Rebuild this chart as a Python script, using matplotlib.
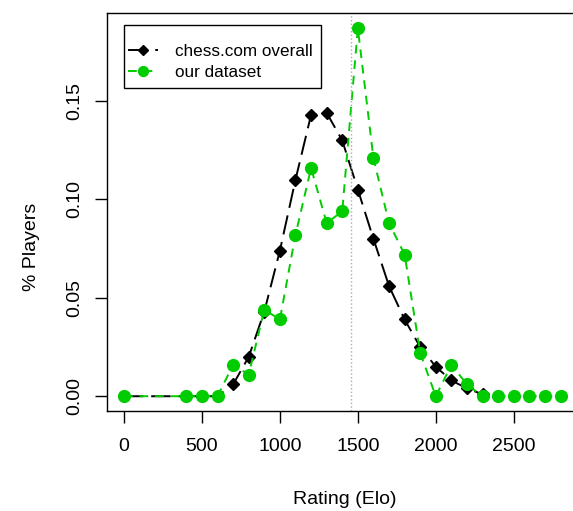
import matplotlib
matplotlib.use("Agg")
import matplotlib.pyplot as plt
from matplotlib.patches import Rectangle

plt.rcParams["font.family"] = ["Liberation Sans", "DejaVu Sans"]

# chess.com overall distribution
chess_x = [0, 400, 500, 600, 700, 800, 900, 1000, 1100, 1200, 1300, 1400, 1500,
           1600, 1700, 1800, 1900, 2000, 2100, 2200, 2300]
chess_y = [0.0, 0.0, 0.0, 0.0, 0.006, 0.020, 0.043, 0.074, 0.110, 0.143, 0.144, 0.130, 0.105,
           0.080, 0.056, 0.039, 0.025, 0.015, 0.008, 0.004, 0.001]

# our dataset
ours_x = [0, 400, 500, 600, 700, 800, 900, 1000, 1100, 1200, 1300, 1400, 1500, 1600,
          1700, 1800, 1900, 2000, 2100, 2200, 2300, 2400, 2500, 2600, 2700, 2800]
ours_y = [0.0, 0.0, 0.0, 0.0, 0.016, 0.011, 0.044, 0.039, 0.082, 0.116, 0.088, 0.094, 0.187, 0.121,
          0.088, 0.072, 0.022, 0.0, 0.016, 0.006, 0.0, 0.0, 0.0, 0.0, 0.0, 0.0]

mean_rating = 1455
x_ticks = [0, 500, 1000, 1500, 2000, 2500]
y_ticks = [0.00, 0.05, 0.10, 0.15]

W, H = 573, 511
fig = plt.figure(figsize=(W / 100, H / 100), dpi=100)
# axes box in pixels: left 106.5, right 578, top 13.5, bottom 411
AX_L, AX_R, AX_T, AX_B = 106.5, 578.0, 13.5, 411.0
AW, AH = AX_R - AX_L, AX_B - AX_T
ax = fig.add_axes([AX_L / W, (H - AX_B) / H, AW / W, AH / H])


def px(x, y):
    # pixel position -> axes fraction
    return (x - AX_L) / AW, (AX_B - y) / AH


ax.plot(chess_x, chess_y, color="black", linestyle=(0, (10, 4)), linewidth=1.4,
        marker="D", markersize=6.5, label="chess.com overall")
ax.plot(ours_x, ours_y, color="#00cc00", linestyle=(0, (4.5, 3.5)), linewidth=1.4,
        marker="o", markersize=9.5, markeredgewidth=0, label="our dataset")
ax.axvline(mean_rating, color="#aaaaaa", linestyle=":", linewidth=1)

ax.set_xlim(-112, 2912)
ax.set_ylim(-0.0075, 0.1945)
ax.set_xticks(x_ticks)
ax.set_xticklabels([str(t) for t in x_ticks])
ax.set_yticks(y_ticks)
ax.set_yticklabels(["%.2f" % t for t in y_ticks], rotation=90, va="center")
ax.tick_params(direction="out", length=8.5, width=1, labelsize=14)
ax.tick_params(axis="x", pad=11)
ax.tick_params(axis="y", pad=8)
for s in ax.spines.values():
    s.set_linewidth(1)

ax.set_xlabel("Rating (Elo)", fontsize=14)
ax.set_ylabel("% Players", fontsize=14)
ax.xaxis.set_label_coords(*px(345, 499))
ax.yaxis.set_label_coords(*px(32, 247))
ax.xaxis.label.set_va("center")
ax.yaxis.label.set_va("center")

# R-style legend: tight left padding, roomy top/bottom
leg = ax.legend(loc="upper left", bbox_to_anchor=px(128, 44),
                frameon=False, fontsize=12.3, markerscale=0.85,
                handlelength=1.75, handletextpad=1.0, borderpad=0, labelspacing=0.33,
                borderaxespad=0)
bx0, by0 = px(124, 88)
bx1, by1 = px(321, 25)
ax.add_patch(Rectangle((bx0, by0), bx1 - bx0, by1 - by0, transform=ax.transAxes,
                       fill=False, edgecolor="black", linewidth=1, zorder=5))

fig.savefig("out.png", dpi=100)
